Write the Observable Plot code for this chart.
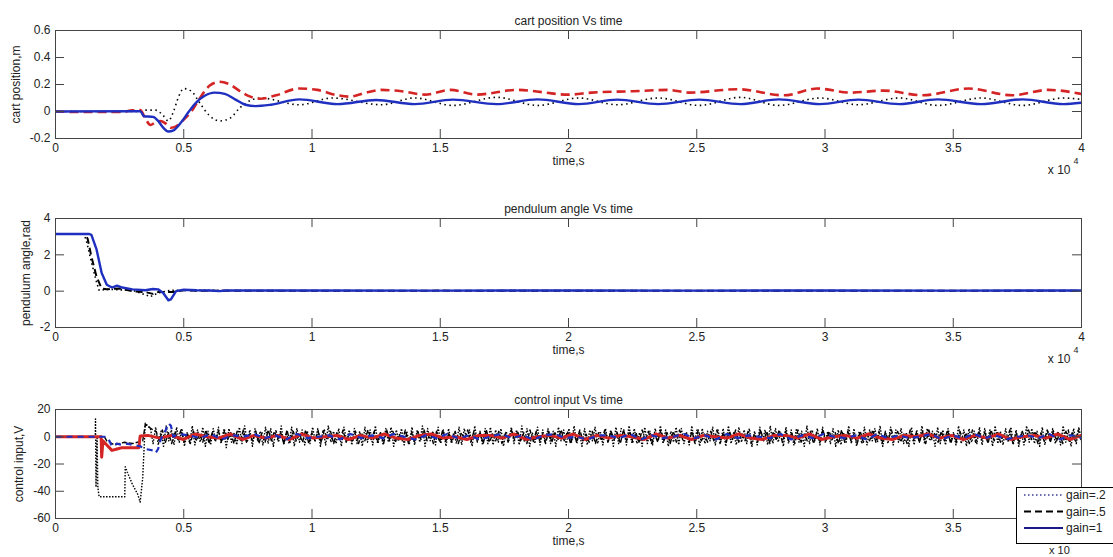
<!DOCTYPE html>
<html><head><meta charset="utf-8">
<script src="https://cdn.jsdelivr.net/npm/d3@7"></script>
<script src="https://cdn.jsdelivr.net/npm/@observablehq/plot@0.6"></script>
<style>
body{margin:0;background:#fff;font-family:"Liberation Sans",Arial,sans-serif;}
#root{position:relative;width:1113px;height:557px;overflow:hidden;background:#fff;}
.panel{position:absolute;left:0;}
#legend{position:absolute;left:1016px;top:487px;width:110px;height:57px;background:#fff;border:1px solid #000;box-sizing:border-box;}
</style></head><body><div id="root"></div>
<script>
// time values are in units of 10^4 s (axis shows "x 10^4")
const xTicks = [0, 0.5, 1, 1.5, 2, 2.5, 3, 3.5, 4];
const cartYTicks = [-0.2, 0, 0.2, 0.4, 0.6];
const angleYTicks = [-2, 0, 2, 4];
const inputYTicks = [-60, -40, -20, 0, 20];
const titles = ["cart position Vs time", "pendulum angle Vs time", "control input Vs time"];
const yLabels = ["cart position,m", "pendulum angle,rad", "control input,V"];
const xLabel = "time,s";
const legendLabels = ["gain=.2", "gain=.5", "gain=1"];

// ---- cart position [t, m]
const cartDotted = [[0,0],[0.33,0],[0.35,0.01],[0.39,0.01],[0.42,-0.03],[0.44,-0.07],[0.46,0.0],[0.48,0.11],[0.5,0.17],[0.53,0.15],[0.56,0.07],[0.6,-0.03],[0.64,-0.07],[0.68,-0.05],[0.72,0.03],[0.77,0.09],[0.8,0.1],[0.95,0.05],[1.08,0.1],[1.27,0.05],[1.4,0.1],[1.55,0.045],[1.72,0.105],[1.88,0.045],[2.04,0.1],[2.19,0.05],[2.35,0.1],[2.51,0.045],[2.67,0.105],[2.82,0.045],[2.98,0.1],[3.13,0.05],[3.29,0.1],[3.44,0.045],[3.61,0.1],[3.77,0.045],[3.93,0.1],[4.0,0.09]];
const cartRed = [[0,0],[0.1,-0.004],[0.25,-0.004],[0.3,0.008],[0.33,0.01],[0.35,-0.05],[0.37,-0.1],[0.39,-0.08],[0.41,-0.07],[0.43,-0.09],[0.45,-0.12],[0.47,-0.11],[0.5,-0.06],[0.53,0.0],[0.56,0.09],[0.6,0.19],[0.64,0.22],[0.68,0.2],[0.72,0.15],[0.76,0.11],[0.8,0.095],[0.86,0.12],[0.95,0.17],[1.02,0.16],[1.1,0.12],[1.15,0.11],[1.2,0.135],[1.27,0.16],[1.35,0.15],[1.44,0.125],[1.54,0.16],[1.64,0.125],[1.8,0.16],[2.0,0.125],[2.09,0.14],[2.25,0.15],[2.39,0.16],[2.47,0.14],[2.66,0.165],[2.84,0.12],[2.97,0.17],[3.1,0.14],[3.23,0.155],[3.38,0.12],[3.56,0.17],[3.73,0.12],[3.87,0.16],[4.0,0.13]];
const cartBlue = [[0,0],[0.33,0.003],[0.345,-0.035],[0.38,-0.04],[0.4,-0.07],[0.42,-0.12],[0.44,-0.148],[0.46,-0.14],[0.49,-0.08],[0.52,0.0],[0.55,0.07],[0.58,0.115],[0.62,0.14],[0.66,0.13],[0.7,0.09],[0.74,0.05],[0.78,0.04],[0.84,0.05],[0.95,0.09],[1.1,0.055],[1.25,0.085],[1.4,0.055],[1.55,0.088],[1.72,0.055],[1.88,0.09],[2.04,0.055],[2.19,0.088],[2.35,0.055],[2.51,0.088],[2.67,0.055],[2.82,0.09],[2.98,0.055],[3.13,0.088],[3.29,0.055],[3.44,0.09],[3.61,0.055],[3.77,0.09],[3.93,0.055],[4.0,0.065]];

// ---- pendulum angle [t, rad]
const angleDotted = [[0,3.14],[0.11,3.14],[0.12,2.8],[0.14,1.6],[0.16,0.5],[0.17,0.05],[0.2,0.1],[0.3,0.05],[0.34,-0.15],[0.37,-0.3],[0.4,-0.1],[0.45,0.05],[1.0,0.02],[2.0,0.03],[3.0,0.02],[4.0,0.02]];
const angleDashed = [[0,3.14],[0.115,3.14],[0.125,2.9],[0.14,1.9],[0.16,0.8],[0.18,0.15],[0.2,0.1],[0.25,0.15],[0.3,0.0],[0.35,-0.05],[0.38,-0.15],[0.4,-0.05],[0.46,-0.05],[0.5,0.05],[0.55,0.02],[1.5,0.03],[2.5,0.02],[4.0,0.02]];
const angleBlue = [[0,3.15],[0.13,3.15],[0.14,3.1],[0.16,2.3],[0.18,1.0],[0.2,0.35],[0.22,0.2],[0.24,0.3],[0.26,0.2],[0.3,0.1],[0.35,0.05],[0.38,0.12],[0.4,0.1],[0.42,-0.1],[0.44,-0.5],[0.45,-0.45],[0.47,0.0],[0.5,0.08],[0.55,0.05],[0.6,0.04],[0.64,0.0],[0.66,0.04],[1.0,0.04],[1.5,0.03],[2.0,0.04],[2.5,0.03],[3.0,0.04],[3.5,0.03],[4.0,0.04]];

// ---- control input [t, V], transient part
const inputDottedStart = [[0,0],[0.155,0],[0.156,13],[0.158,-37],[0.162,0],[0.165,-37],[0.17,-44],[0.27,-44],[0.272,-22],[0.28,-26],[0.3,-35],[0.32,-42],[0.33,-48],[0.34,-30],[0.35,10],[0.36,8]];
const inputDashedStart = [[0,0],[0.19,0],[0.2,-3],[0.23,-6],[0.27,-4],[0.3,-5],[0.34,-3],[0.35,9],[0.38,5]];
const inputRedStart = [[0,0],[0.178,0],[0.18,-15],[0.185,-3],[0.19,-4],[0.2,-6],[0.22,-10],[0.24,-9],[0.26,-8],[0.325,-8],[0.33,0.5],[0.36,1]];
const inputBlueStart = [[0,0],[0.2,0],[0.21,-3],[0.22,-7],[0.24,-5],[0.26,-6],[0.28,-5],[0.3,-6],[0.33,-7],[0.35,-9],[0.38,-10],[0.39,-12],[0.4,-9],[0.41,-2],[0.43,5],[0.44,10],[0.45,8],[0.46,0],[0.48,2]];
// chattering part: values read along the band, evenly sampled until t = 4
const inputDottedChatter = [6,-5,7,-6,4,-7,8,-3,5,-6,7,-4,6,-7,3,-5,8,-6,5,-4,7,-7,4,-6,6,-3,7,-5,5,-8,6,-4,3,-6,7,-5,8,-4,5,-7,6,-3,4,-6,7,-5,6,-7,5,-4,8,-6,3,-5,7,-7,6,-4,5,-6,4,-5,7,-3,6,-7,5,-6,8,-4,4,-5,6,-7,7,-3,5,-6,6,-5,4,-7,7,-4,5,-6,8,-5,3,-6,6,-4,7,-7,5,-3,6,-6,4,-5,7,-6,5,-4,8,-7,6,-3,4,-6,7,-5,5,-7,6,-4,3,-5,7,-6,6,-3,5,-7,8,-4,4,-6,6,-5,7,-6,5,-4,6,-7,4,-3,7,-5,5,-6,8,-4,6,-7,3,-5,7,-6,5,-4,6,-5,4,-7,7,-3,5,-6,6,-4,8,-5,4,-7,6,-6,5,-3,7,-5,4,-6,6,-4,5,-7,7,-5,6,
  5,-6,8,-4,6,-5,3,-7,7,-5,4,-6,6,-3,8,-5,5,-7,4,-4,7,-6,6,-5,3,-6,8,-4,5,-7,6,-5,4,-3,7,-6,5,-4,6,-7,8,-5,3,-6,7,-4,5,-5,6,-7,4,-6,7,-3,5,-6,8,-5,6,-4,3,-7,7,-5,5,-6,6,-4,4,-7,8,-5,5,-3,6,-6,7,-4,4,-5,6,-7,5,-6,3,-4,8,-5,6,-7,4,-5,7,-6,5,-3,6,-4,8,-7,4,-5,7,-6,5,-4,6,-5,3,-7,7,-6,5,-4,8,-5,6,-3,4,-7,7,-5,5,-6,6,-4,3,-6,8,-5,5,-7,6,-4,4,-5,7,-6,6,-3,5,-7,8,-5,4,-6,6,-4,7,-5,5,-7,3,-6,8,-4,6,-5,4,-7,7,-6,5,-3,6,-5,4,-6,8,-4,5,-7,6,-5,7,-3];
const inputDashedChatter = [4,-3,5,-4,3,-5,4,-2,5,-4,3,-5,4,-3,2,-4,5,-5,3,-3,4,-4,5,-2,3,-5,4,-3,5,-4,2,-3,4,-5,3,-4,5,-3,4,-2,3,-5,5,-4,4,-3,2,-4,5,-5,3,-3,4,-4,5,-2,4,-5,3,-3,5,-4,2,-4,4,-5,3,-3,5,-2,4,-4,3,-5,5,-3,4,-4,2,-3,5,-5,3,-4,4,-2,5,-3,3,-5,4,-4,5,-3,2,-4,4,-5,3,-2,5,-4,4,-3,3,-5,5,-4,2,-3,4,-5,3,-4,5,-2,4,-3,3,-5,5,-4,4,-3,2,-5,4,-4,3,-2,5,-3,4,-5,3,-4,5,-3,2,-4,4,-5,3,-3,5,-4,4,-2,3,-5,5,-3,4,-4,
  3,-4,5,-3,4,-5,2,-4,5,-3,3,-5,4,-4,5,-2,3,-4,4,-5,5,-3,2,-4,4,-3,5,-5,3,-4,4,-2,5,-4,3,-3,4,-5,2,-4,5,-3,4,-5,3,-2,5,-4,4,-3,3,-5,5,-4,2,-3,4,-5,3,-4,5,-3,4,-2,3,-5,5,-4,4,-3,2,-5,4,-4,3,-3,5,-4,4,-5,3,-2,5,-3,4,-4,2,-5,5,-3,3,-4,4,-5,5,-2,3,-4,4,-3,5,-5,2,-4,4,-3,3,-5,5,-4,4,-2,3,-5,5,-3,4,-4,2,-3,5,-5,3,-4,4,-3,5,-2,4,-5,3,-3,5,-4,4,-3,2,-5,4,-4,3,-3,5,-4];
const inputRedChatter = [-1,1,-2,2,0,-1,2,-2,1,-1,1,-2,2,-1,0,1,-2,1,-1,2,-1,-2,1,2,-1,0,-2,1,1,-1,2,-2,0,1,-1,2,-2,1,-1,1,0,-2,2,-1,1,-2,1,0,-1,2,-1,-2,1,1,-1,2,-2,0,1,-1,2,-1,-2,1,0,2,-1,1,-2,1,-1,2,-2,0,1,-1,2,-2,1];
const inputBlueChatter = [1,-1,2,-2,1,0,2,-1,1,-2,2,-1,0,1,-2,2,-1,1,-1,2,0,-2,1,-1,2,-1,1,-2,0,2,-1,1,-2,1,2,-1,0,-2,1,1,-1,2,-2,1,-1,0,2,-1,1,-2,2,-1,1,0,-1,2,-2,1,-1,2,0,-1,1,-2,2,-1,1,-1,0,2,-2,1,-1,2,-1,1,-2,0,1,-1,2,-2,1,-1];

function join(start, chatter, tEnd) {
  const t0 = start[start.length - 1][0];
  const n = chatter.length;
  return start.concat(chatter.map((v, i) => [t0 + (tEnd - t0) * (i + 1) / n, v]));
}
const inputDotted = join(inputDottedStart, inputDottedChatter, 4);
const inputDashed = join(inputDashedStart, inputDashedChatter, 4);
const inputRed = join(inputRedStart, inputRedChatter, 4);
const inputBlue = join(inputBlueStart, inputBlueChatter, 4);

const BLUE = "#1f2fbf", RED = "#d42424", BLACK = "#000", AX = "#444";
const FONT = "Liberation Sans, Arial, Helvetica, sans-serif";

function panel(cfg) {
  const W = 1113, mL = 55, mR = 32;
  const innerH = cfg.height - cfg.mt - cfg.mb;
  const innerW = W - mL - mR;
  const marks = [];
  for (const s of cfg.series) {
    marks.push(Plot.line(s.data, {x: d => d[0], y: d => d[1], stroke: s.color, strokeWidth: s.width,
      strokeDasharray: s.dash, curve: s.curve || "linear", clip: true, strokeLinecap: s.cap || "butt"}));
  }
  marks.push(Plot.frame({stroke: AX, strokeWidth: 1}));
  marks.push(Plot.tickX(xTicks, {x: d => d, stroke: AX, insetBottom: innerH - 9}));
  marks.push(Plot.tickX(xTicks, {x: d => d, stroke: AX, insetTop: innerH - 9}));
  marks.push(Plot.tickY(cfg.yTicks, {y: d => d, stroke: AX, insetRight: innerW - 9}));
  marks.push(Plot.tickY(cfg.yTicks, {y: d => d, stroke: AX, insetLeft: innerW - 9}));
  marks.push(Plot.axisX(cfg.xLabelTicks, {tickSize: 0, tickPadding: 5, tickFormat: d => String(d), label: null, fontSize: 12}));
  marks.push(Plot.axisY(cfg.yTicks, {tickSize: 0, tickPadding: 5, tickFormat: d => String(d), label: null, fontSize: 12}));
  marks.push(Plot.text([cfg.title], {text: d => d, frameAnchor: "top", dy: -14, fontSize: 12}));
  marks.push(Plot.text([xLabel], {text: d => d, frameAnchor: "bottom", dy: 26, fontSize: 12}));
  marks.push(Plot.text([cfg.ylabel], {text: d => d, frameAnchor: "left", dx: cfg.ylDx, rotate: -90, textAnchor: "middle", fontSize: 12}));
  if (cfg.exp) {
    marks.push(Plot.text(["x 10"], {text: d => d, frameAnchor: "bottom-right", dx: -11, dy: 35, textAnchor: "end", fontSize: 12}));
    marks.push(Plot.text(["4"], {text: d => d, frameAnchor: "bottom-right", dx: -3, dy: 25, textAnchor: "end", fontSize: 9}));
  }
  const svg = Plot.plot({
    width: W, height: cfg.height,
    marginLeft: mL, marginRight: mR, marginTop: cfg.mt, marginBottom: cfg.mb,
    x: {domain: [0, 4], axis: null},
    y: {domain: cfg.yDomain, axis: null},
    style: {fontFamily: FONT, fontSize: "12px", color: "#222", background: "transparent"},
    marks
  });
  svg.classList.add("panel");
  svg.style.top = cfg.top + "px";
  return svg;
}

const root = document.getElementById("root");
root.append(panel({top: 0, height: 189, mt: 30, mb: 51, yDomain: [-0.2, 0.6], yTicks: cartYTicks, xLabelTicks: xTicks,
  title: titles[0], ylabel: yLabels[0], ylDx: -39, exp: true,
  series: [
    {data: cartDotted, color: BLACK, width: 1.6, dash: "1.5,3.5", curve: "monotone-x"},
    {data: cartRed, color: RED, width: 2.6, dash: "9,5", curve: "monotone-x"},
    {data: cartBlue, color: BLUE, width: 2.4, curve: "monotone-x"}
  ]}));
root.append(panel({top: 189, height: 189, mt: 29, mb: 51, yDomain: [-2, 4], yTicks: angleYTicks, xLabelTicks: xTicks,
  title: titles[1], ylabel: yLabels[1], ylDx: -29, exp: true,
  series: [
    {data: angleDotted, color: BLACK, width: 1.6, dash: "1.5,3"},
    {data: angleDashed, color: BLACK, width: 2, dash: "7,4"},
    {data: angleBlue, color: BLUE, width: 2.4}
  ]}));
// last panel: the "4" tick label and the exponent are hidden behind the legend box
root.append(panel({top: 378, height: 179, mt: 31, mb: 39, yDomain: [-60, 20], yTicks: inputYTicks, xLabelTicks: xTicks.slice(0, -1),
  title: titles[2], ylabel: yLabels[2], ylDx: -36, exp: false,
  series: [
    {data: inputDotted, color: BLACK, width: 1.4, dash: "1.5,1.5"},
    {data: inputDashed, color: BLACK, width: 1.4, dash: "5,2"},
    {data: inputRed, color: RED, width: 3},
    {data: inputBlue, color: BLUE, width: 2.2, dash: "6,5"}
  ]}));

// legend (overlaid on bottom-right)
const lg = document.createElement("div");
lg.id = "legend";
const styles = [
  {stroke: "#3a3a9a", width: 1.3, dash: "1.5,2.5"},
  {stroke: "#000", width: 2, dash: "7,4"},
  {stroke: "#1a1a88", width: 1.8, dash: null}
];
let s = '<svg width="110" height="57" style="display:block;font-family:' + FONT + ';font-size:12px">';
legendLabels.forEach((lab, i) => {
  const y = 7 + i * 16.5;
  s += '<line x1="7" x2="46" y1="' + y + '" y2="' + y + '" stroke="' + styles[i].stroke + '" stroke-width="' + styles[i].width + '"' +
    (styles[i].dash ? ' stroke-dasharray="' + styles[i].dash + '"' : '') + '/>';
  s += '<text x="49" y="' + (y + 4) + '" fill="#222">' + lab + '</text>';
});
s += '</svg>';
lg.innerHTML = s;
root.append(lg);
// visible part of the last panel's exponent label, below the legend box
const ex = document.createElement("div");
ex.textContent = "x 10";
ex.style.cssText = "position:absolute;left:1049px;top:544px;font-size:11px;color:#222;font-family:" + FONT + ";line-height:12px;";
root.append(ex);
</script></body></html>
